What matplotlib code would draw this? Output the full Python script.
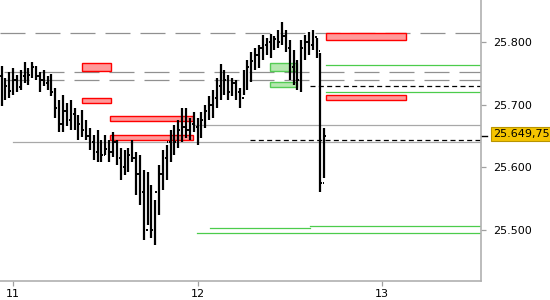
import matplotlib
matplotlib.use("Agg")
import matplotlib.pyplot as plt
import matplotlib.dates as mdates
from matplotlib.patches import Rectangle
from matplotlib.ticker import FuncFormatter
import pandas as pd

plt.rcParams["lines.scale_dashes"] = False
plt.rcParams["font.family"] = ["DejaVu Sans"]

# -------------------------------
# DATA (30 min OHLC bars)
# -------------------------------
bar_start = "2025-11-10 22:30"
highs = [25762, 25743, 25752, 25759, 25747, 25755, 25768, 25759, 25768, 25762,
         25752, 25755, 25746, 25749, 25727, 25708, 25716, 25703, 25708, 25695,
         25684, 25692, 25676, 25663, 25652, 25660, 25644, 25652, 25644, 25657,
         25644, 25631, 25628, 25631, 25644, 25625, 25620, 25596, 25593, 25572,
         25548, 25604, 25628, 25636, 25660, 25668, 25676, 25695, 25695, 25679,
         25688, 25679, 25688, 25700, 25714, 25724, 25743, 25765, 25755, 25747,
         25743, 25739, 25727, 25755, 25771, 25784, 25790, 25795, 25811, 25806,
         25813, 25810, 25819, 25832, 25819, 25803, 25787, 25771, 25803, 25811,
         25816, 25819, 25806, 25782, 25663]
lows = [25698, 25708, 25711, 25716, 25720, 25724, 25735, 25731, 25743, 25739,
        25720, 25730, 25724, 25714, 25679, 25657, 25657, 25666, 25660, 25660,
        25644, 25649, 25644, 25628, 25612, 25609, 25609, 25620, 25609, 25617,
        25604, 25580, 25588, 25593, 25609, 25556, 25540, 25484, 25508, 25487,
        25476, 25524, 25564, 25580, 25609, 25620, 25631, 25641, 25647, 25644,
        25657, 25636, 25647, 25663, 25676, 25679, 25695, 25708, 25716, 25708,
        25714, 25708, 25695, 25716, 25724, 25736, 25755, 25759, 25771, 25779,
        25774, 25787, 25790, 25795, 25784, 25739, 25731, 25724, 25720, 25771,
        25779, 25787, 25774, 25561, 25583]
closes = [25712, 25730, 25722, 25740, 25728, 25745, 25750, 25748, 25760, 25745,
          25740, 25735, 25740, 25720, 25695, 25670, 25690, 25675, 25685, 25665,
          25670, 25660, 25650, 25640, 25625, 25640, 25620, 25630, 25625, 25640,
          25615, 25600, 25610, 25620, 25615, 25590, 25560, 25500, 25530, 25500,
          25560, 25590, 25615, 25640, 25650, 25640, 25660, 25665, 25660, 25670,
          25665, 25650, 25675, 25690, 25700, 25710, 25730, 25735, 25740, 25720,
          25735, 25720, 25710, 25740, 25760, 25770, 25780, 25790, 25795, 25800,
          25790, 25805, 25800, 25810, 25790, 25760, 25755, 25740, 25790, 25800,
          25795, 25808, 25785, 25575, 25649.75]
first_open = 25745
last_price = 25649.75

# horizontal levels: (price, start, end)
gray_dashed = [(25814, "2025-11-10 22:18", "2025-11-13 13:00"),
               (25752, "2025-11-10 22:50", "2025-11-13 13:00"),
               (25739, "2025-11-10 22:50", "2025-11-13 13:00")]
gray_solid = [(25640, "2025-11-11 00:00", "2025-11-13 13:00"),
              (25667, "2025-11-11 23:35", "2025-11-13 13:00")]
black_dashed = [(25730, "2025-11-12 14:40", "2025-11-13 13:00"),
                (25644, "2025-11-12 06:50", "2025-11-13 13:00")]
green_lines = [(25763, "2025-11-12 16:40", "2025-11-13 13:00"),
               (25720, "2025-11-12 16:40", "2025-11-13 13:00"),
               (25503, "2025-11-12 01:40", "2025-11-12 14:40"),
               (25506, "2025-11-12 14:40", "2025-11-13 13:00"),
               (25495, "2025-11-11 23:55", "2025-11-13 13:00")]

# zones: (start, end, low, high)
red_zones = [("2025-11-11 09:00", "2025-11-11 12:45", 25754, 25766),
             ("2025-11-11 09:00", "2025-11-11 12:45", 25703, 25711),
             ("2025-11-11 12:40", "2025-11-11 23:25", 25674, 25682),
             ("2025-11-11 12:40", "2025-11-11 23:25", 25644, 25652),
             ("2025-11-12 16:40", "2025-11-13 03:05", 25803, 25814),
             ("2025-11-12 16:40", "2025-11-13 03:05", 25708, 25715)]
green_zones = [("2025-11-12 09:25", "2025-11-12 12:55", 25754, 25766),
               ("2025-11-12 09:25", "2025-11-12 12:55", 25728, 25736)]

day_ticks = ["2025-11-11", "2025-11-12", "2025-11-13"]


def num(s):
    return mdates.date2num(pd.Timestamp(s))


# -------------------------------
# PLOT
# -------------------------------
fig = plt.figure(figsize=(5.5, 3.0), dpi=100)
ax = fig.add_axes([0.0, 0.0633, 0.8745, 0.9367])

gcol = "#909090"
for p, a, b in gray_dashed:
    ax.plot([num(a), num(b)], [p, p], color=gcol, lw=0.9, dashes=(18, 7.2), zorder=1)
for p, a, b in gray_solid:
    ax.plot([num(a), num(b)], [p, p], color="#a8a8a8", lw=0.9, zorder=1)
for p, a, b in black_dashed:
    ax.plot([num(a), num(b)], [p, p], color="black", lw=0.9, dashes=(3.6, 2.4), zorder=1)
for p, a, b in green_lines:
    ax.plot([num(a), num(b)], [p, p], color="#4ccc4c", lw=0.9, zorder=1)

for a, b, lo, hi in red_zones:
    ax.add_patch(Rectangle((num(a), lo), num(b) - num(a), hi - lo,
                           facecolor="#ff9a9a", edgecolor="#ff0000", lw=1.0, zorder=2))
for a, b, lo, hi in green_zones:
    ax.add_patch(Rectangle((num(a), lo), num(b) - num(a), hi - lo,
                           facecolor="#b6e8b0", edgecolor="#55cc55", lw=1.0, zorder=2))

times = pd.date_range(bar_start, periods=len(highs), freq="30min")
x = mdates.date2num(times)
opens = [first_open] + closes[:-1]
tick = 12 / (24 * 60)
ax.vlines(x, lows, highs, color="black", lw=1.6, zorder=3)
ax.hlines(opens, x - tick, x, color="black", lw=1.4, zorder=3)
ax.hlines(closes, x, x + tick, color="black", lw=1.4, zorder=3)

ax.set_xlim(num("2025-11-10 22:18"), num("2025-11-13 12:53"))
ax.set_ylim(25418.8, 25867)

ax.set_xticks([num(d) for d in day_ticks])
ax.xaxis.set_major_formatter(mdates.DateFormatter("%d"))
ax.yaxis.tick_right()
ax.set_yticks([25500, 25600, 25700, 25800])
ax.yaxis.set_major_formatter(FuncFormatter(lambda v, pos: f"{v:,.0f}".replace(",", ".")))
ax.tick_params(axis="both", colors="#a0a0a0", labelcolor="black", labelsize=8,
               length=3.5, width=0.9)
ax.tick_params(axis="y", pad=5)
ax.tick_params(axis="x", pad=2)
for s in ["left", "top"]:
    ax.spines[s].set_visible(False)
for s in ["right", "bottom"]:
    ax.spines[s].set_color("#b0b0b0")
    ax.spines[s].set_linewidth(1.2)

# current price marker
ax.annotate(f"{last_price:,.2f}".replace(",", "X").replace(".", ",").replace("X", "."),
            xy=(1.0, last_price), xycoords=("axes fraction", "data"),
            xytext=(9, 1.5), textcoords="offset points", va="center", ha="left",
            fontsize=8, color="black", annotation_clip=False,
            bbox=dict(boxstyle="square,pad=0.18", facecolor="#f5c400",
                      edgecolor="#b89400", lw=0.8))
ax.plot([1.0, 1.012], [last_price, last_price], color="black", lw=1.0,
        transform=ax.get_yaxis_transform(), clip_on=False)

fig.savefig("out.png", dpi=100)
